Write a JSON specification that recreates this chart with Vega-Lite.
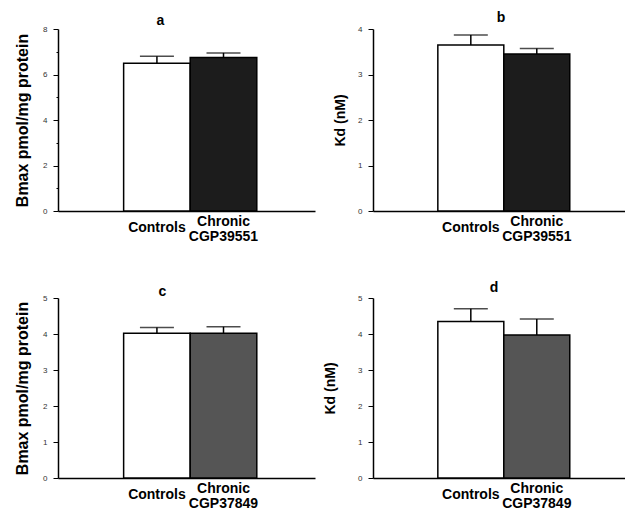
{
  "$schema": "https://vega.github.io/schema/vega-lite/v6.json",
  "padding": {"left": 14, "top": 11, "right": 0, "bottom": 0},
  "config": {"view": {"stroke": null}, "font": "Liberation Sans", "background": "white"},
  "datasets": {
    "bars": [
      {"panel": "a", "group": "Controls", "value": 6.5, "upper": 6.8},
      {"panel": "a", "group": "Chronic", "value": 6.75, "upper": 6.95},
      {"panel": "b", "group": "Controls", "value": 3.65, "upper": 3.87},
      {"panel": "b", "group": "Chronic", "value": 3.45, "upper": 3.57},
      {"panel": "c", "group": "Controls", "value": 4.02, "upper": 4.18},
      {"panel": "c", "group": "Chronic", "value": 4.02, "upper": 4.2},
      {"panel": "d", "group": "Controls", "value": 4.35, "upper": 4.7},
      {"panel": "d", "group": "Chronic", "value": 3.97, "upper": 4.42}
    ]
  },
  "bounds": "flush",
  "columns": 2,
  "spacing": {"row": 87, "column": 58},
  "concat": [
        {
          "width": 257, "height": 182,
          "data": {"name": "bars"},
          "transform": [{"filter": "datum.panel == 'a'"}],
          "title": {"text": "a", "fontSize": 14, "fontWeight": "bold", "color": "black", "dx": -26, "offset": -3},
          "encoding": {
            "x": {"field": "group", "type": "nominal", "sort": ["Controls", "Chronic"],
              "scale": {"paddingInner": 0, "paddingOuter": 0.93, "align": 0.53},
              "axis": {"title": null, "domainColor": "black", "domainWidth": 1.5, "ticks": false, "labelAngle": 0,
                "labelFontSize": 14, "labelFontWeight": "bold", "labelColor": "black", "labelBaseline": "top",
                "labelPadding": {"condition": {"test": "datum.value == 'Controls'", "value": 9}, "value": 3}, "labelLineHeight": 15,
                "labelExpr": "datum.value == 'Chronic' ? ['Chronic', 'CGP39551'] : datum.value"}}
          },
          "layer": [
            {"mark": {"type": "rule", "strokeWidth": 1.5, "color": "black"},
             "encoding": {"y": {"field": "value", "type": "quantitative", "scale": {"domain": [0, 8]},
               "axis": {"title": "Bmax  pmol/mg  protein", "titleFontSize": 16, "titleFontWeight": "bold", "titleColor": "black", "titlePadding": 12,
                 "values": [0, 1, 2, 3, 4, 5, 6, 7, 8], "format": "d", "labelExpr": "datum.value % 2 == 0 ? datum.label : ''",
                 "labelFontSize": 8, "labelColor": "#333", "labelPadding": 6, "tickColor": "black", "domainColor": "black", "domainWidth": 1.5, "grid": false,
                 "tickSize": {"condition": {"test": "datum.value % 2 == 0", "value": 5}, "value": 2}}},
               "y2": {"field": "upper"}}},
            {"mark": {"type": "tick", "orient": "horizontal", "size": 34, "thickness": 1.5, "color": "black"},
             "encoding": {"y": {"field": "upper", "type": "quantitative", "scale": {"domain": [0, 8]},
               "axis": {"title": "Bmax  pmol/mg  protein", "titleFontSize": 16, "titleFontWeight": "bold", "titleColor": "black", "titlePadding": 12,
                 "values": [0, 1, 2, 3, 4, 5, 6, 7, 8], "format": "d", "labelExpr": "datum.value % 2 == 0 ? datum.label : ''",
                 "labelFontSize": 8, "labelColor": "#333", "labelPadding": 6, "tickColor": "black", "domainColor": "black", "domainWidth": 1.5, "grid": false,
                 "tickSize": {"condition": {"test": "datum.value % 2 == 0", "value": 5}, "value": 2}}}}},
            {"mark": {"type": "bar", "stroke": "black", "strokeWidth": 1.5},
             "encoding": {"y": {"field": "value", "type": "quantitative", "scale": {"domain": [0, 8]},
               "axis": {"title": "Bmax  pmol/mg  protein", "titleFontSize": 16, "titleFontWeight": "bold", "titleColor": "black", "titlePadding": 12,
                 "values": [0, 1, 2, 3, 4, 5, 6, 7, 8], "format": "d", "labelExpr": "datum.value % 2 == 0 ? datum.label : ''",
                 "labelFontSize": 8, "labelColor": "#333", "labelPadding": 6, "tickColor": "black", "domainColor": "black", "domainWidth": 1.5, "grid": false,
                 "tickSize": {"condition": {"test": "datum.value % 2 == 0", "value": 5}, "value": 2}}},
               "fill": {"condition": {"test": "datum.group == 'Controls'", "value": "white"}, "value": "#1c1c1c"}}}
          ]
        },
        {
          "width": 252, "height": 182,
          "data": {"name": "bars"},
          "transform": [{"filter": "datum.panel == 'b'"}],
          "title": {"text": "b", "fontSize": 14, "fontWeight": "bold", "color": "black", "dx": 2, "offset": 0},
          "encoding": {
            "x": {"field": "group", "type": "nominal", "sort": ["Controls", "Chronic"],
              "scale": {"paddingInner": 0, "paddingOuter": 0.91, "align": 0.54},
              "axis": {"title": null, "domainColor": "black", "domainWidth": 1.5, "ticks": false, "labelAngle": 0,
                "labelFontSize": 14, "labelFontWeight": "bold", "labelColor": "black", "labelBaseline": "top",
                "labelPadding": {"condition": {"test": "datum.value == 'Controls'", "value": 9}, "value": 3}, "labelLineHeight": 15,
                "labelExpr": "datum.value == 'Chronic' ? ['Chronic', 'CGP39551'] : datum.value"}}
          },
          "layer": [
            {"mark": {"type": "rule", "strokeWidth": 1.5, "color": "black"},
             "encoding": {"y": {"field": "value", "type": "quantitative", "scale": {"domain": [0, 4]},
               "axis": {"title": "Kd (nM)", "titleFontSize": 14, "titleFontWeight": "bold", "titleColor": "black", "titlePadding": 10,
                 "values": [0, 0.5, 1, 1.5, 2, 2.5, 3, 3.5, 4], "format": "d", "labelExpr": "datum.value % 1 == 0 ? datum.label : ''",
                 "labelFontSize": 8, "labelColor": "#333", "labelPadding": 6, "tickColor": "black", "domainColor": "black", "domainWidth": 1.5, "grid": false,
                 "tickSize": {"condition": {"test": "datum.value % 1 == 0", "value": 5}, "value": 2}}},
               "y2": {"field": "upper"}}},
            {"mark": {"type": "tick", "orient": "horizontal", "size": 34, "thickness": 1.5, "color": "black"},
             "encoding": {"y": {"field": "upper", "type": "quantitative", "scale": {"domain": [0, 4]},
               "axis": {"title": "Kd (nM)", "titleFontSize": 14, "titleFontWeight": "bold", "titleColor": "black", "titlePadding": 10,
                 "values": [0, 0.5, 1, 1.5, 2, 2.5, 3, 3.5, 4], "format": "d", "labelExpr": "datum.value % 1 == 0 ? datum.label : ''",
                 "labelFontSize": 8, "labelColor": "#333", "labelPadding": 6, "tickColor": "black", "domainColor": "black", "domainWidth": 1.5, "grid": false,
                 "tickSize": {"condition": {"test": "datum.value % 1 == 0", "value": 5}, "value": 2}}}}},
            {"mark": {"type": "bar", "stroke": "black", "strokeWidth": 1.5},
             "encoding": {"y": {"field": "value", "type": "quantitative", "scale": {"domain": [0, 4]},
               "axis": {"title": "Kd (nM)", "titleFontSize": 14, "titleFontWeight": "bold", "titleColor": "black", "titlePadding": 10,
                 "values": [0, 0.5, 1, 1.5, 2, 2.5, 3, 3.5, 4], "format": "d", "labelExpr": "datum.value % 1 == 0 ? datum.label : ''",
                 "labelFontSize": 8, "labelColor": "#333", "labelPadding": 6, "tickColor": "black", "domainColor": "black", "domainWidth": 1.5, "grid": false,
                 "tickSize": {"condition": {"test": "datum.value % 1 == 0", "value": 5}, "value": 2}}},
               "fill": {"condition": {"test": "datum.group == 'Controls'", "value": "white"}, "value": "#1c1c1c"}}}
          ]
        },
        {
          "width": 257, "height": 180,
          "data": {"name": "bars"},
          "transform": [{"filter": "datum.panel == 'c'"}],
          "title": {"text": "c", "fontSize": 14, "fontWeight": "bold", "color": "black", "dx": -24, "offset": -5},
          "encoding": {
            "x": {"field": "group", "type": "nominal", "sort": ["Controls", "Chronic"],
              "scale": {"paddingInner": 0, "paddingOuter": 0.93, "align": 0.53},
              "axis": {"title": null, "domainColor": "black", "domainWidth": 1.5, "ticks": false, "labelAngle": 0,
                "labelFontSize": 14, "labelFontWeight": "bold", "labelColor": "black", "labelBaseline": "top",
                "labelPadding": {"condition": {"test": "datum.value == 'Controls'", "value": 9}, "value": 3}, "labelLineHeight": 15,
                "labelExpr": "datum.value == 'Chronic' ? ['Chronic', 'CGP37849'] : datum.value"}}
          },
          "layer": [
            {"mark": {"type": "rule", "strokeWidth": 1.5, "color": "black"},
             "encoding": {"y": {"field": "value", "type": "quantitative", "scale": {"domain": [0, 5]},
               "axis": {"title": "Bmax  pmol/mg  protein", "titleFontSize": 16, "titleFontWeight": "bold", "titleColor": "black", "titlePadding": 12,
                 "values": [0, 0.5, 1, 1.5, 2, 2.5, 3, 3.5, 4, 4.5, 5], "format": "d", "labelExpr": "datum.value % 1 == 0 ? datum.label : ''",
                 "labelFontSize": 8, "labelColor": "#333", "labelPadding": 6, "tickColor": "black", "domainColor": "black", "domainWidth": 1.5, "grid": false,
                 "tickSize": {"condition": {"test": "datum.value % 1 == 0", "value": 5}, "value": 2}}},
               "y2": {"field": "upper"}}},
            {"mark": {"type": "tick", "orient": "horizontal", "size": 34, "thickness": 1.5, "color": "black"},
             "encoding": {"y": {"field": "upper", "type": "quantitative", "scale": {"domain": [0, 5]},
               "axis": {"title": "Bmax  pmol/mg  protein", "titleFontSize": 16, "titleFontWeight": "bold", "titleColor": "black", "titlePadding": 12,
                 "values": [0, 0.5, 1, 1.5, 2, 2.5, 3, 3.5, 4, 4.5, 5], "format": "d", "labelExpr": "datum.value % 1 == 0 ? datum.label : ''",
                 "labelFontSize": 8, "labelColor": "#333", "labelPadding": 6, "tickColor": "black", "domainColor": "black", "domainWidth": 1.5, "grid": false,
                 "tickSize": {"condition": {"test": "datum.value % 1 == 0", "value": 5}, "value": 2}}}}},
            {"mark": {"type": "bar", "stroke": "black", "strokeWidth": 1.5},
             "encoding": {"y": {"field": "value", "type": "quantitative", "scale": {"domain": [0, 5]},
               "axis": {"title": "Bmax  pmol/mg  protein", "titleFontSize": 16, "titleFontWeight": "bold", "titleColor": "black", "titlePadding": 12,
                 "values": [0, 0.5, 1, 1.5, 2, 2.5, 3, 3.5, 4, 4.5, 5], "format": "d", "labelExpr": "datum.value % 1 == 0 ? datum.label : ''",
                 "labelFontSize": 8, "labelColor": "#333", "labelPadding": 6, "tickColor": "black", "domainColor": "black", "domainWidth": 1.5, "grid": false,
                 "tickSize": {"condition": {"test": "datum.value % 1 == 0", "value": 5}, "value": 2}}},
               "fill": {"condition": {"test": "datum.group == 'Controls'", "value": "white"}, "value": "#555555"}}}
          ]
        },
        {
          "width": 252, "height": 180,
          "data": {"name": "bars"},
          "transform": [{"filter": "datum.panel == 'd'"}],
          "title": {"text": "d", "fontSize": 14, "fontWeight": "bold", "color": "black", "dx": -5, "offset": -1},
          "encoding": {
            "x": {"field": "group", "type": "nominal", "sort": ["Controls", "Chronic"],
              "scale": {"paddingInner": 0, "paddingOuter": 0.91, "align": 0.54},
              "axis": {"title": null, "domainColor": "black", "domainWidth": 1.5, "ticks": false, "labelAngle": 0,
                "labelFontSize": 14, "labelFontWeight": "bold", "labelColor": "black", "labelBaseline": "top",
                "labelPadding": {"condition": {"test": "datum.value == 'Controls'", "value": 9}, "value": 3}, "labelLineHeight": 15,
                "labelExpr": "datum.value == 'Chronic' ? ['Chronic', 'CGP37849'] : datum.value"}}
          },
          "layer": [
            {"mark": {"type": "rule", "strokeWidth": 1.5, "color": "black"},
             "encoding": {"y": {"field": "value", "type": "quantitative", "scale": {"domain": [0, 5]},
               "axis": {"title": "Kd (nM)", "titleFontSize": 14, "titleFontWeight": "bold", "titleColor": "black", "titlePadding": 20,
                 "values": [0, 0.5, 1, 1.5, 2, 2.5, 3, 3.5, 4, 4.5, 5], "format": "d", "labelExpr": "datum.value % 1 == 0 ? datum.label : ''",
                 "labelFontSize": 8, "labelColor": "#333", "labelPadding": 6, "tickColor": "black", "domainColor": "black", "domainWidth": 1.5, "grid": false,
                 "tickSize": {"condition": {"test": "datum.value % 1 == 0", "value": 5}, "value": 2}}},
               "y2": {"field": "upper"}}},
            {"mark": {"type": "tick", "orient": "horizontal", "size": 34, "thickness": 1.5, "color": "black"},
             "encoding": {"y": {"field": "upper", "type": "quantitative", "scale": {"domain": [0, 5]},
               "axis": {"title": "Kd (nM)", "titleFontSize": 14, "titleFontWeight": "bold", "titleColor": "black", "titlePadding": 20,
                 "values": [0, 0.5, 1, 1.5, 2, 2.5, 3, 3.5, 4, 4.5, 5], "format": "d", "labelExpr": "datum.value % 1 == 0 ? datum.label : ''",
                 "labelFontSize": 8, "labelColor": "#333", "labelPadding": 6, "tickColor": "black", "domainColor": "black", "domainWidth": 1.5, "grid": false,
                 "tickSize": {"condition": {"test": "datum.value % 1 == 0", "value": 5}, "value": 2}}}}},
            {"mark": {"type": "bar", "stroke": "black", "strokeWidth": 1.5},
             "encoding": {"y": {"field": "value", "type": "quantitative", "scale": {"domain": [0, 5]},
               "axis": {"title": "Kd (nM)", "titleFontSize": 14, "titleFontWeight": "bold", "titleColor": "black", "titlePadding": 20,
                 "values": [0, 0.5, 1, 1.5, 2, 2.5, 3, 3.5, 4, 4.5, 5], "format": "d", "labelExpr": "datum.value % 1 == 0 ? datum.label : ''",
                 "labelFontSize": 8, "labelColor": "#333", "labelPadding": 6, "tickColor": "black", "domainColor": "black", "domainWidth": 1.5, "grid": false,
                 "tickSize": {"condition": {"test": "datum.value % 1 == 0", "value": 5}, "value": 2}}},
               "fill": {"condition": {"test": "datum.group == 'Controls'", "value": "white"}, "value": "#555555"}}}
          ]
        }
  ]
}
